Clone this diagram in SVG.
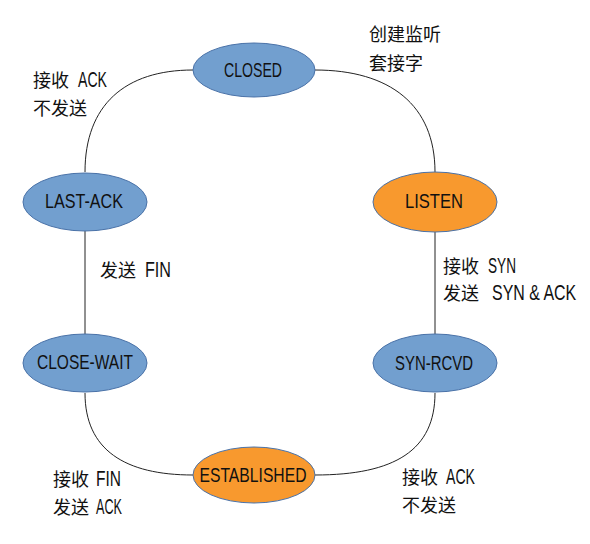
<svg xmlns="http://www.w3.org/2000/svg" width="590" height="544" viewBox="0 0 590 544">
<style>
.bg{fill:#ffffff}
.blue{fill:#729fcf;stroke:#4a72a8;stroke-width:1}
.orange{fill:#f8992e;stroke:#4a72a8;stroke-width:1}
.nl{font-family:"Liberation Sans","Noto Sans CJK SC",sans-serif;font-size:21px;fill:#111;text-anchor:middle}
.lb{font-family:"Noto Sans CJK SC","Liberation Sans",sans-serif;font-size:18px;fill:#111}
.lat{font-family:"Liberation Sans",sans-serif;font-size:22px}
.edge{fill:none;stroke:#222;stroke-width:1}
</style>
<rect class="bg" x="0" y="0" width="590" height="544"/>
<g id="connectors">
<path class="edge" d="M193,70 C125,70 85,105 85,172"/>
<path class="edge" d="M315,70 C390,70 435,105 435,172"/>
<path class="edge" d="M85,231 L85,334"/>
<path class="edge" d="M435,232 L435,334"/>
<path class="edge" d="M85,393 C85,450 125,475 193,475"/>
<path class="edge" d="M435,393 C435,450 395,475 315,475"/>
</g>
<g id="node-closed">
<ellipse class="blue" cx="254" cy="70" rx="61" ry="27"/>
<text class="nl" x="253" y="77" textLength="58" lengthAdjust="spacingAndGlyphs">CLOSED</text>
</g>
<g id="node-last-ack">
<ellipse class="blue" cx="85" cy="202" rx="62" ry="29"/>
<text class="nl" x="84" y="208" textLength="78" lengthAdjust="spacingAndGlyphs">LAST-ACK</text>
</g>
<g id="node-listen">
<ellipse class="orange" cx="435" cy="202" rx="62" ry="30"/>
<text class="nl" x="434" y="208" textLength="58" lengthAdjust="spacingAndGlyphs">LISTEN</text>
</g>
<g id="node-close-wait">
<ellipse class="blue" cx="85" cy="363" rx="62" ry="29"/>
<text class="nl" x="85" y="369" textLength="96" lengthAdjust="spacingAndGlyphs">CLOSE-WAIT</text>
</g>
<g id="node-syn-rcvd">
<ellipse class="blue" cx="435" cy="363" rx="62" ry="29"/>
<text class="nl" x="434" y="370" textLength="78" lengthAdjust="spacingAndGlyphs">SYN-RCVD</text>
</g>
<g id="node-established">
<ellipse class="orange" cx="254" cy="475" rx="61" ry="28"/>
<text class="nl" x="253" y="482" textLength="107" lengthAdjust="spacingAndGlyphs">ESTABLISHED</text>
</g>
<g id="labels">
<text class="lb" x="369" y="41">创建监听</text>
<text class="lb" x="369" y="70">套接字</text>
<text class="lb" x="33" y="87">接收<tspan class="lat" x="78" textLength="29" lengthAdjust="spacingAndGlyphs">ACK</tspan></text>
<text class="lb" x="33" y="115">不发送</text>
<text class="lb" x="100" y="277">发送<tspan class="lat" x="145" textLength="26" lengthAdjust="spacingAndGlyphs">FIN</tspan></text>
<text class="lb" x="443" y="273">接收<tspan class="lat" x="488" textLength="28" lengthAdjust="spacingAndGlyphs">SYN</tspan></text>
<text class="lb" x="443" y="300">发送</text>
<text class="lb lat" transform="matrix(0.725,0,0,1,492,300)">SYN &amp; ACK</text>
<text class="lb" x="53" y="486">接收<tspan class="lat" x="96" textLength="25" lengthAdjust="spacingAndGlyphs">FIN</tspan></text>
<text class="lb" x="53" y="514">发送<tspan class="lat" x="96" textLength="26" lengthAdjust="spacingAndGlyphs">ACK</tspan></text>
<text class="lb" x="402" y="484">接收<tspan class="lat" x="446" textLength="29" lengthAdjust="spacingAndGlyphs">ACK</tspan></text>
<text class="lb" x="402" y="512">不发送</text>
</g>
</svg>
